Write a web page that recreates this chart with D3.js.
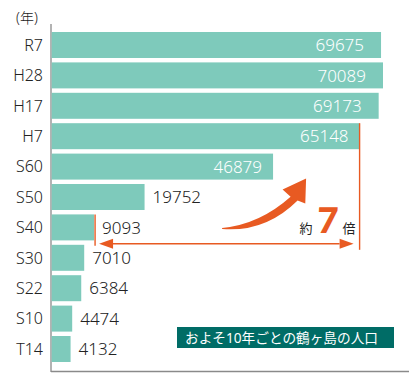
<!DOCTYPE html>
<html><head><meta charset="utf-8">
<script src="https://cdn.jsdelivr.net/npm/d3@7"></script>
<style>body{margin:0;background:#fff}svg{display:block}</style>
</head><body>
<svg id="c" width="409" height="377"></svg>
<script>
const categories = ["R7","H28","H17","H7","S60","S50","S40","S30","S22","S10","T14"];
const population = [69675,70089,69173,65148,46879,19752,9093,7010,6384,4474,4132];
const yearUnit = "(年)";
const legendText = "およそ10年ごとの鶴ヶ島の人口";
const noteTexts = ["約","7","倍"];

const svg = d3.select("#c");
const barColor = "#7ecabb", orange = "#e85a22", axisColor = "#8a8a8a";
const font = "'Noto Sans', 'Noto Sans CJK JP', sans-serif";

const x = d3.scaleLinear().domain([0, 70089]).range([51, 383]);
const y = d3.scaleBand().domain(categories).range([32, 362]).paddingInner(0.145).paddingOuter(0);

// axes lines
svg.append("line").attr("x1",51).attr("x2",51).attr("y1",24).attr("y2",372)
  .attr("stroke",axisColor).attr("stroke-width",1.3);
svg.append("line").attr("x1",51).attr("x2",409).attr("y1",371.5).attr("y2",371.5)
  .attr("stroke",axisColor).attr("stroke-width",1.3);

// bars
svg.selectAll("rect.bar").data(categories).enter().append("rect")
  .attr("x", x(0)+0.7).attr("y", d=>y(d))
  .attr("width", (d,i)=>x(population[i])-x(0)-0.7)
  .attr("height", y.bandwidth()).attr("fill", barColor);

// category labels
svg.selectAll("text.cat").data(categories).enter().append("text")
  .attr("x", 43).attr("y", d=>y(d)+y.bandwidth()/2)
  .attr("dy","0.36em").attr("text-anchor","end")
  .attr("font-family", font).attr("font-size", 16).attr("font-weight",300).attr("fill","#222")
  .text(d=>d);

svg.append("text").attr("x",27).attr("y",18).attr("dy","0.36em").attr("text-anchor","middle")
  .attr("font-family",font).attr("font-size",14).attr("font-weight",300).attr("fill","#222").text(yearUnit);

// value labels
svg.selectAll("text.val").data(categories).enter().append("text")
  .attr("x",(d,i)=> population[i] > 30000 ? x(population[i]) - (i<3?17:11) : x(population[i]) + 8)
  .attr("y", d=>y(d)+y.bandwidth()/2).attr("dy","0.36em")
  .attr("text-anchor",(d,i)=> population[i] > 30000 ? "end" : "start")
  .attr("font-family",font).attr("font-size",17).attr("font-weight",300)
  .attr("fill",(d,i)=> population[i] > 30000 ? "#fff" : "#222")
  .text((d,i)=>population[i]);

// annotation
const xl = x(population[6]) + 1, xr = x(population[3]);
const ay = y("S30") - 1;
svg.append("line").attr("x1",xl).attr("x2",xl).attr("y1",y("S40")).attr("y2",ay+2)
  .attr("stroke",orange).attr("stroke-width",1.4);
svg.append("line").attr("x1",xr).attr("x2",xr).attr("y1",y("H7")).attr("y2",ay+6)
  .attr("stroke",orange).attr("stroke-width",1.4);
svg.append("line").attr("x1",xl+14).attr("x2",xr-20).attr("y1",ay).attr("y2",ay)
  .attr("stroke",orange).attr("stroke-width",1.4);
svg.append("path").attr("d",`M${xl+4},${ay} L${xl+18},${ay-5} L${xl+18},${ay+5} Z`).attr("fill",orange);
svg.append("path").attr("d",`M${xr-6},${ay} L${xr-20},${ay-5} L${xr-20},${ay+5} Z`).attr("fill",orange);

// curved arrow (relative to H7 bar end / S40 row)
const ox = xr, oy = y("S40");
const p = (dx,dy)=>`${ox+dx},${oy+dy}`;
svg.append("path").attr("fill",orange).attr("d",
  `M${p(-137.5,13.5)} Q${p(-100,10)} ${p(-69,-17.7)} L${p(-77,-25)} L${p(-53.5,-36)} L${p(-54.3,-11)} L${p(-62,-14)} Q${p(-94,18)} ${p(-137.5,14.6)} Z`);

svg.append("text").attr("x",306).attr("y",228).attr("dy","0.36em").attr("text-anchor","middle")
  .attr("font-family",font).attr("font-size",13).attr("fill","#222").text(noteTexts[0]);
svg.append("text").attr("x",327).attr("y",233).attr("text-anchor","middle")
  .attr("font-family",font).attr("font-size",36).attr("font-weight","bold").attr("fill",orange)
  .attr("transform","skewX(-4) translate(16,0)").text(noteTexts[1]);
svg.append("text").attr("x",349).attr("y",228).attr("dy","0.36em").attr("text-anchor","middle")
  .attr("font-family",font).attr("font-size",13).attr("fill","#222").text(noteTexts[2]);

// legend box
svg.append("rect").attr("x",177).attr("y",327).attr("width",217).attr("height",21).attr("fill","#006c66");
svg.append("text").attr("x",185).attr("y",337.5).attr("dy","0.36em")
  .attr("font-family",font).attr("font-size",14).attr("fill","#fff")
  .attr("textLength",193).attr("lengthAdjust","spacingAndGlyphs").text(legendText);
</script>
</body></html>
